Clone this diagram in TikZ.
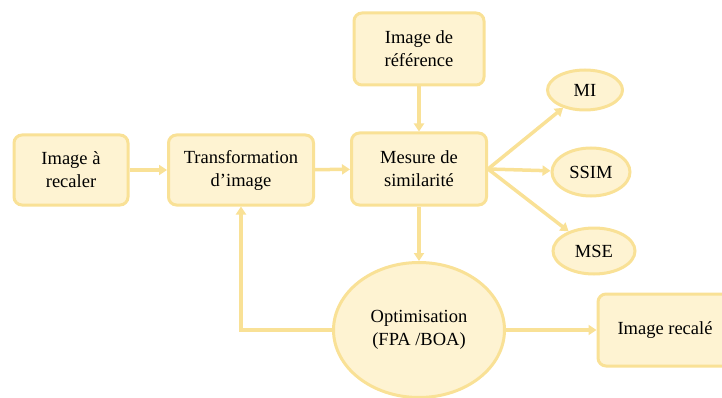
\documentclass[tikz,border=0pt]{standalone}
\usepackage{fontspec}
\setmainfont{Liberation Serif}
\usepackage{tikz}
\usetikzlibrary{arrows.meta,shapes.geometric}

\definecolor{jaunefond}{RGB}{254,243,210}
\definecolor{jaunebord}{RGB}{249,225,150}

\tikzset{
	boite/.style={draw=jaunebord, fill=jaunefond, line width=3pt, rounded corners=8pt,
		align=center, inner sep=0pt, font=\fontsize{18.5}{23}\selectfont},
	bulle/.style={ellipse, draw=jaunebord, fill=jaunefond, line width=3pt,
		align=center, inner sep=0pt, font=\fontsize{18.5}{23}\selectfont},
	fleche/.style={draw=jaunebord, line width=3.5pt, -{Triangle[width=10pt,length=8pt]}}
}

\begin{document}
\begin{tikzpicture}[x=1pt, y=-1pt]
	\useasboundingbox (0,0) rectangle (722,398);

	% boites
	\node[boite, minimum width=114pt, minimum height=70pt] (recaler) at (71,170) {Image à\\recaler};
	\node[boite, minimum width=145pt, minimum height=70pt] (transfo) at (241,170) {Transformation\\d'image};
	\node[boite, minimum width=135pt, minimum height=72pt] (mesure) at (419,169) {Mesure de\\similarité};
	\node[boite, minimum width=130pt, minimum height=72pt] (reference) at (419,49) {Image de\\référence};
	\node[boite, minimum width=134pt, minimum height=72pt] (recale) at (665,330) {Image recalé};

	% mesures
	\node[bulle, minimum width=75pt, minimum height=40pt] (mi) at (585,90) {MI};
	\node[bulle, minimum width=78pt, minimum height=48pt] (ssim) at (591,172) {SSIM};
	\node[bulle, minimum width=82pt, minimum height=46pt] (mse) at (594,251) {MSE};

	\node[bulle, minimum width=171pt, minimum height=135pt] (optim) at (419,330) {Optimisation\\(FPA /BOA)};

	% fleches
	\draw[fleche] (recaler) -- (transfo);
	\draw[fleche] (transfo) -- (mesure);
	\draw[fleche] (reference) -- (mesure);
	\draw[fleche] (mesure.east) -- (mi);
	\draw[fleche] (mesure.east) -- (ssim);
	\draw[fleche] (mesure.east) -- (mse);
	\draw[fleche] (mesure) -- (optim);
	\draw[fleche] (optim) -- (recale);
	\draw[fleche] (optim.west) -| (transfo.south);
\end{tikzpicture}
\end{document}
